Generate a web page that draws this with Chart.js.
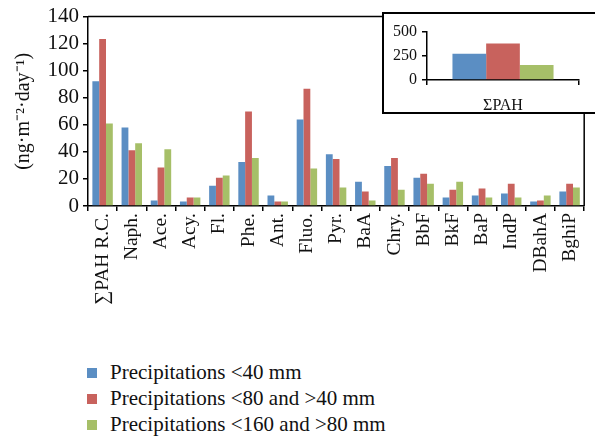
<!DOCTYPE html>
<html>
<head>
<meta charset="utf-8">
<script src="https://cdn.jsdelivr.net/npm/chart.js@4"></script>
<style>
  body { margin: 0; background: #fff; }
  #wrap { position: relative; width: 595px; height: 440px; overflow: hidden; }
  #main { position: absolute; left: 0; top: 0; }
  #inset { position: absolute; left: 382px; top: 12px; width: 240px; height: 102px;
    border: 2px solid #000; background: #fff; box-sizing: border-box; }
  #legend { position: absolute; left: 87px; top: 359px; font-family: "Liberation Serif", "Times New Roman", serif;
    font-size: 21px; color: #111; }
  .item { height: 26px; line-height: 26px; white-space: nowrap; }
  .sw { display: inline-block; width: 10px; height: 10px; margin-right: 13px; vertical-align: 1px; }
</style>
</head>
<body>
<div id="wrap">
  <canvas id="main" width="595" height="330"></canvas>
  <div id="inset"><canvas id="insetChart" width="236" height="98"></canvas></div>
  <div id="legend"></div>
</div>
<script>
const categories = ["∑PAH R.C.", "Naph.", "Ace.", "Acy.", "Fl.", "Phe.", "Ant.", "Fluo.", "Pyr.",
  "BaA", "Chry.", "BbF", "BkF", "BaP", "IndP", "DBahA", "BghiP"];
const seriesNames = ["Precipitations <40 mm", "Precipitations <80 and >40 mm", "Precipitations <160 and >80 mm"];
const colors = ["#5b8ec3", "#c8625d", "#a6bf68"];
const below40 = [92.2, 58, 4.1, 3.4, 15, 32.5, 7.8, 64, 38.3, 18, 29.6, 20.9, 6.3, 7.8, 9.2, 3.4, 10.7];
const from40to80 = [123.5, 41.3, 28.4, 6.3, 20.9, 69.9, 3.4, 86.7, 34.7, 10.7, 35.4, 23.8, 12.1, 12.9, 16.5, 4.1, 16.5];
const from80to160 = [61, 46.4, 42, 6.3, 22.6, 35.4, 3.4, 27.7, 13.6, 4.1, 12.1, 16.5, 18, 6.3, 6.3, 7.8, 13.6];
const insetCategory = ["ΣPAH"];
const insetTotals = [273, 381, 157];

const serif = "\"Liberation Serif\", \"Times New Roman\", serif";
const values = [below40, from40to80, from80to160];

// top and right edge of the plot box
const frame = {
  id: "frame",
  afterDraw(chart) {
    const { ctx, chartArea: a } = chart;
    ctx.save();
    ctx.strokeStyle = "#000";
    ctx.lineWidth = 1.5;
    ctx.beginPath();
    ctx.moveTo(a.left, a.top);
    ctx.lineTo(a.right, a.top);
    ctx.lineTo(a.right, a.bottom);
    ctx.stroke();
    ctx.restore();
  },
};

new Chart(document.getElementById("main"), {
  type: "bar",
  data: {
    labels: categories,
    datasets: values.map((v, i) => ({
      label: seriesNames[i],
      data: v,
      backgroundColor: colors[i],
      categoryPercentage: 0.7,
      barPercentage: 1,
    })),
  },
  options: {
    responsive: false,
    animation: false,
    layout: { padding: { top: 13, right: 0, left: 0, bottom: 0 } },
    plugins: { legend: { display: false }, tooltip: { enabled: false } },
    scales: {
      x: {
        grid: { drawOnChartArea: false, tickLength: 5, color: "#000", offset: true, lineWidth: 1.5 },
        border: { color: "#000", width: 1.5 },
        ticks: { minRotation: 90, maxRotation: 90, autoSkip: false, color: "#111",
          font: { family: serif, size: 19.5 }, padding: 2 },
        afterFit(s) { s.height = 124; },
      },
      y: {
        min: 0, max: 140,
        ticks: { stepSize: 20, autoSkip: false, color: "#111", font: { family: serif, size: 21 }, padding: 4 },
        grid: { drawOnChartArea: false, tickLength: 5, color: "#000", lineWidth: 1.5 },
        border: { color: "#000", width: 1.5 },
        title: { display: true, text: "(ng·m⁻²·day⁻¹)", color: "#111",
          font: { family: serif, size: 20 }, padding: { top: 12, bottom: 0 } },
        afterFit(s) { s.width = 88; },
      },
    },
  },
  plugins: [frame],
});

new Chart(document.getElementById("insetChart"), {
  type: "bar",
  data: {
    labels: insetCategory,
    datasets: insetTotals.map((t, i) => ({
      label: seriesNames[i],
      data: [t],
      backgroundColor: colors[i],
      categoryPercentage: 0.665,
      barPercentage: 1,
    })),
  },
  options: {
    responsive: false,
    animation: false,
    layout: { padding: { top: 18, right: 41, left: 0, bottom: 0 } },
    plugins: { legend: { display: false }, tooltip: { enabled: false } },
    scales: {
      x: {
        grid: { drawOnChartArea: false, tickLength: 5, color: "#000", offset: true, lineWidth: 1.5 },
        border: { color: "#000", width: 1.5 },
        ticks: { color: "#111", font: { family: serif, size: 16 }, padding: 11 },
        afterFit(s) { s.height = 32; },
      },
      y: {
        min: 0, max: 500,
        ticks: { stepSize: 250, autoSkip: false, color: "#111", font: { family: serif, size: 16 }, padding: 5 },
        grid: { drawOnChartArea: false, tickLength: 5, color: "#000", lineWidth: 1.5 },
        border: { color: "#000", width: 1.5 },
        afterFit(s) { s.width = 43; },
      },
    },
  },
});

const legend = document.getElementById("legend");
seriesNames.forEach((name, i) => {
  const row = document.createElement("div");
  row.className = "item";
  row.innerHTML = `<span class="sw" style="background:${colors[i]}"></span>${name}`;
  legend.appendChild(row);
});
</script>
</body>
</html>
